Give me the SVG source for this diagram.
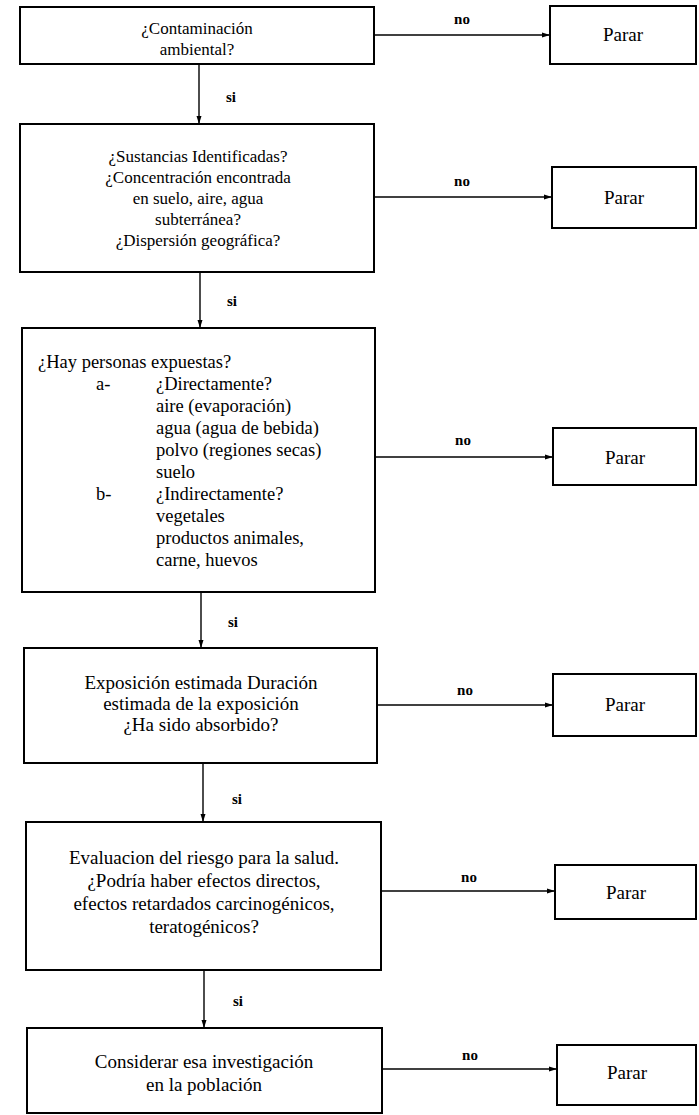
<svg xmlns="http://www.w3.org/2000/svg" width="699" height="1115" viewBox="0 0 699 1115">
<style>
.box{fill:#fff;stroke:#000;stroke-width:2}
.t{font-family:"Liberation Serif","Times New Roman",serif;font-size:17px;fill:#000;text-anchor:middle}
.tb{font-family:"Liberation Serif","Times New Roman",serif;font-size:19px;fill:#000;text-anchor:middle}
.p{font-family:"Liberation Serif","Times New Roman",serif;font-size:19px;fill:#000;text-anchor:middle}
.l{font-family:"Liberation Serif","Times New Roman",serif;font-size:18.5px;fill:#000}
.lb{font-family:"Liberation Serif","Times New Roman",serif;font-size:15px;fill:#000;text-anchor:middle;font-weight:bold}
.c{stroke:#000;stroke-width:1.4;fill:none}
</style>
<defs>
<marker id="ah" markerWidth="8" markerHeight="6" refX="8" refY="3" orient="auto" markerUnits="userSpaceOnUse">
<path d="M0,0.5 L8,3 L0,5.5 Z" fill="#000"/>
</marker>
</defs>
<rect width="699" height="1115" fill="#fff"/>
<g id="connectors">
<line class="c" x1="374" y1="35" x2="550" y2="35" marker-end="url(#ah)"/>
<line class="c" x1="199" y1="64" x2="199" y2="124" marker-end="url(#ah)"/>
<line class="c" x1="374" y1="197" x2="552" y2="197" marker-end="url(#ah)"/>
<line class="c" x1="200" y1="272" x2="200" y2="328" marker-end="url(#ah)"/>
<line class="c" x1="375" y1="457" x2="553" y2="457" marker-end="url(#ah)"/>
<line class="c" x1="201" y1="592" x2="201" y2="648" marker-end="url(#ah)"/>
<line class="c" x1="377" y1="705" x2="553" y2="705" marker-end="url(#ah)"/>
<line class="c" x1="203" y1="763" x2="203" y2="822" marker-end="url(#ah)"/>
<line class="c" x1="381" y1="891" x2="555" y2="891" marker-end="url(#ah)"/>
<line class="c" x1="204" y1="970" x2="204" y2="1028" marker-end="url(#ah)"/>
<line class="c" x1="382" y1="1069" x2="557" y2="1069" marker-end="url(#ah)"/>
<text class="lb" x="462" y="24">no</text>
<text class="lb" x="231" y="102">si</text>
<text class="lb" x="462" y="186">no</text>
<text class="lb" x="232" y="306">si</text>
<text class="lb" x="463" y="445">no</text>
<text class="lb" x="233" y="627">si</text>
<text class="lb" x="465" y="695">no</text>
<text class="lb" x="237" y="804">si</text>
<text class="lb" x="469" y="882">no</text>
<text class="lb" x="238" y="1006">si</text>
<text class="lb" x="470" y="1060">no</text>
</g>
<g id="n1">
<rect class="box" x="20" y="7" width="354" height="57"/>
<text class="t" x="197" y="34">¿Contaminación</text>
<text class="t" x="197" y="55">ambiental?</text>
</g>
<g id="p1">
<rect class="box" x="550" y="6" width="146" height="58"/>
<text class="p" x="623" y="41">Parar</text>
</g>
<g id="n2">
<rect class="box" x="20" y="124" width="354" height="148"/>
<text class="t" x="198" y="162">¿Sustancias Identificadas?</text>
<text class="t" x="198" y="183">¿Concentración encontrada</text>
<text class="t" x="198" y="204">en suelo, aire, agua</text>
<text class="t" x="198" y="225">subterránea?</text>
<text class="t" x="198" y="246">¿Dispersión geográfica?</text>
</g>
<g id="p2">
<rect class="box" x="552" y="167" width="144" height="61"/>
<text class="p" x="624" y="204">Parar</text>
</g>
<g id="n3">
<rect class="box" x="22" y="328" width="353" height="264"/>
<text class="l" x="38" y="368">¿Hay personas expuestas?</text>
<text class="l" x="96" y="390">a-</text>
<text class="l" x="156" y="390">¿Directamente?</text>
<text class="l" x="156" y="412">aire (evaporación)</text>
<text class="l" x="156" y="434">agua (agua de bebida)</text>
<text class="l" x="156" y="456">polvo (regiones secas)</text>
<text class="l" x="156" y="478">suelo</text>
<text class="l" x="96" y="500">b-</text>
<text class="l" x="156" y="500">¿Indirectamente?</text>
<text class="l" x="156" y="522">vegetales</text>
<text class="l" x="156" y="544">productos animales,</text>
<text class="l" x="156" y="566">carne, huevos</text>
</g>
<g id="p3">
<rect class="box" x="553" y="428" width="143" height="57"/>
<text class="p" x="625" y="464">Parar</text>
</g>
<g id="n4">
<rect class="box" x="24" y="648" width="353" height="115"/>
<text class="tb" x="201" y="689">Exposición estimada  Duración</text>
<text class="tb" x="201" y="710">estimada de la exposición</text>
<text class="tb" x="201" y="731">¿Ha sido absorbido?</text>
</g>
<g id="p4">
<rect class="box" x="553" y="674" width="143" height="62"/>
<text class="p" x="625" y="711">Parar</text>
</g>
<g id="n5">
<rect class="box" x="26" y="822" width="355" height="148"/>
<text class="tb" x="204" y="864">Evaluacion del riesgo para la salud.</text>
<text class="tb" x="204" y="887">¿Podría haber efectos directos,</text>
<text class="tb" x="204" y="910">efectos retardados carcinogénicos,</text>
<text class="tb" x="204" y="933">teratogénicos?</text>
</g>
<g id="p5">
<rect class="box" x="555" y="865" width="141" height="54"/>
<text class="p" x="626" y="899">Parar</text>
</g>
<g id="n6">
<rect class="box" x="27" y="1028" width="355" height="85"/>
<text class="tb" x="204" y="1068">Considerar esa investigación</text>
<text class="tb" x="204" y="1091">en la población</text>
</g>
<g id="p6">
<rect class="box" x="557" y="1045" width="139" height="60"/>
<text class="p" x="627" y="1079">Parar</text>
</g>
</svg>
